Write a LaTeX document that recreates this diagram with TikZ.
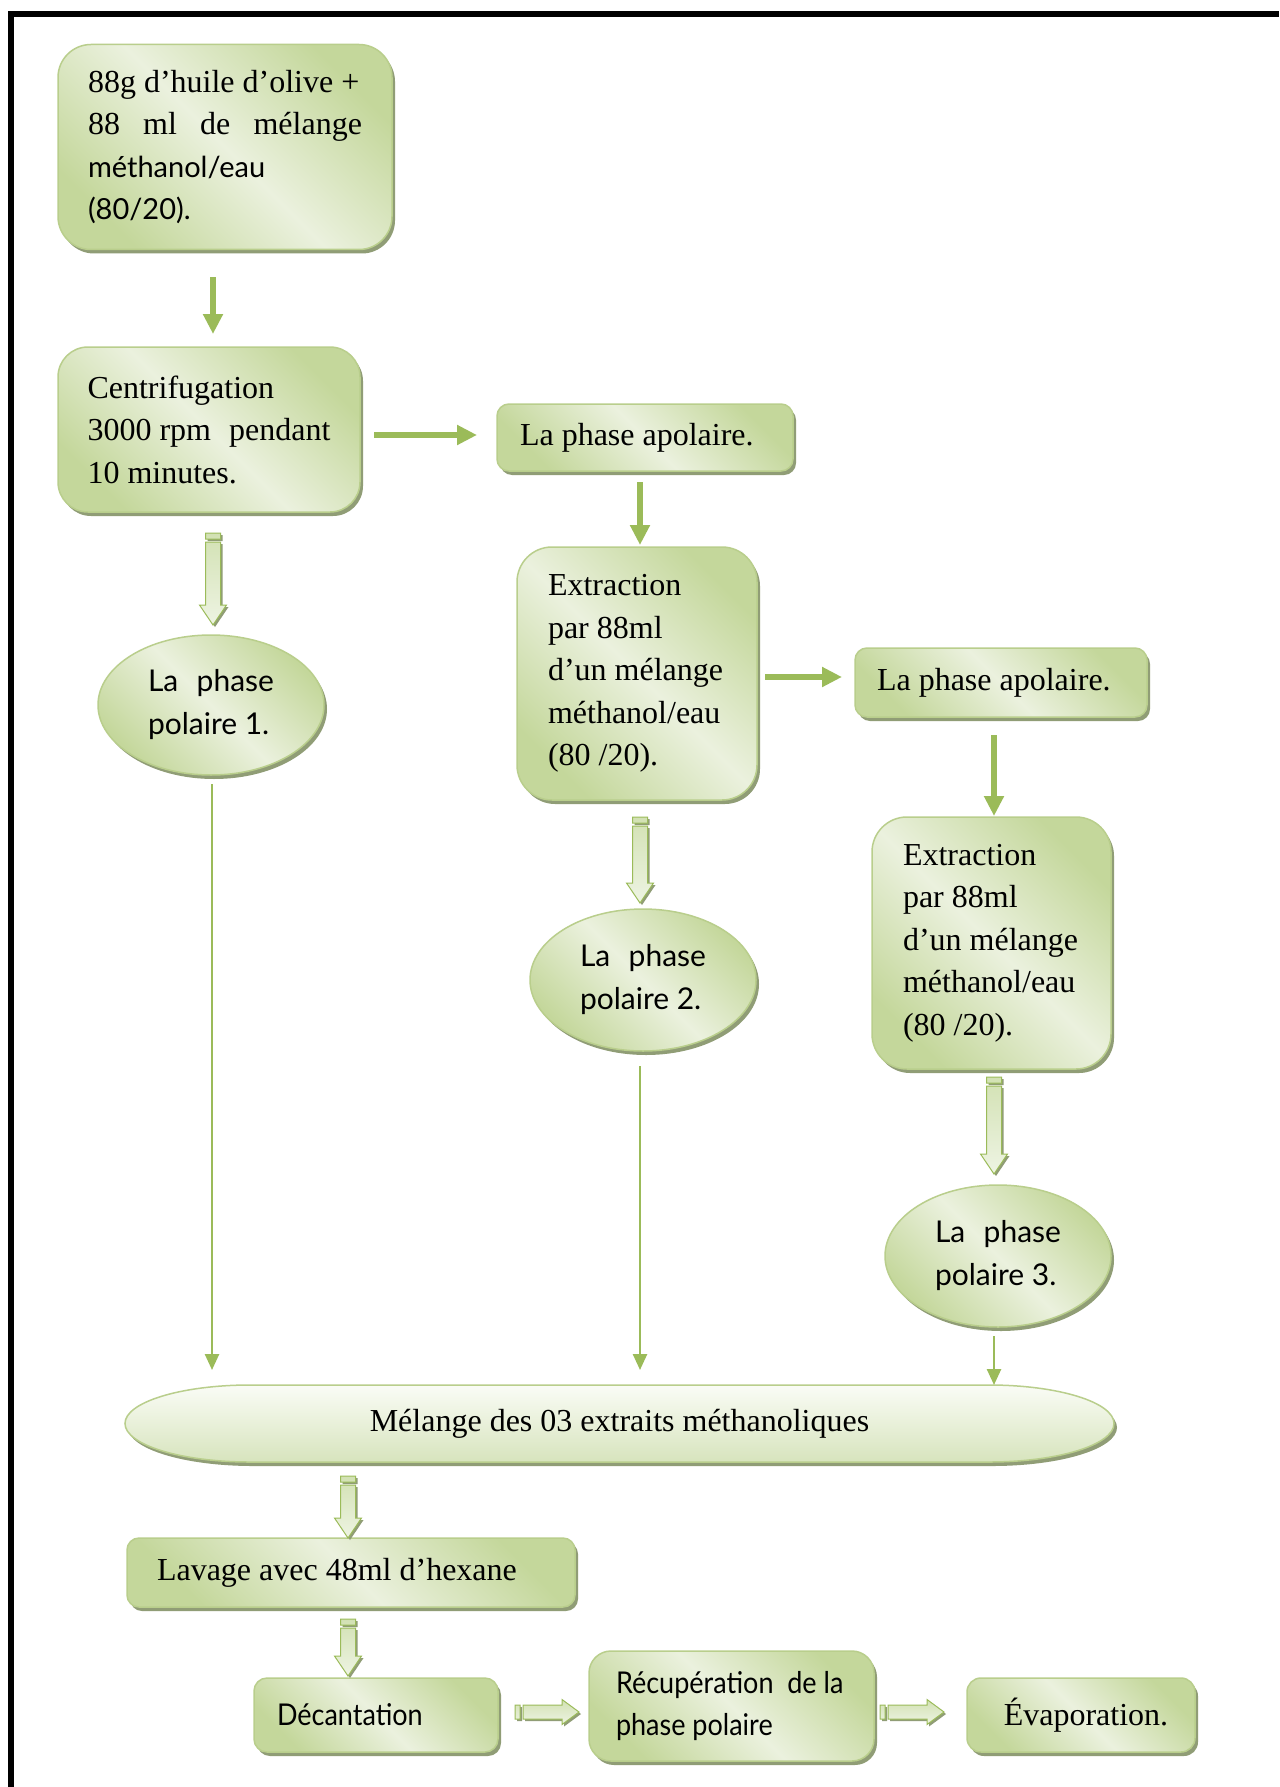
\documentclass[tikz,border=0pt]{standalone}
\usepackage{fontspec}
\setmainfont{Liberation Serif}
\newfontfamily\sansf{Lato}
\newfontfamily\sansc[FakeStretch=0.9]{Lato}
\usetikzlibrary{shapes.geometric,arrows.meta,calc,shadows}
\definecolor{gA}{HTML}{C4D79B}
\definecolor{gB}{HTML}{EBF1DE}
\definecolor{gE}{HTML}{B9CE8C}
\definecolor{gC}{HTML}{9BBB59}
\definecolor{hA}{HTML}{D2E1B3}
\definecolor{hB}{HTML}{EEF4E3}
\definecolor{shc}{HTML}{909D76}
\definecolor{mT}{HTML}{FAFCF6}
\definecolor{mB}{HTML}{D7E4BD}
\tikzset{
  serif/.style={font=\fontsize{32}{42.5}\selectfont},
  sans/.style={font=\sansf\fontsize{30}{43}\selectfont},
  sansb/.style={font=\sansc\fontsize{30}{42}\selectfont},
  shad/.style={drop shadow={shadow xshift=3pt,shadow yshift=-4pt,fill=shc,opacity=1}},
  box/.style={draw=gE, line width=1.5pt, top color=gA, bottom color=gA, middle color=gB,
    shading angle=-45, shad, inner sep=0pt, align=flush left, serif},
  ell/.style={box, ellipse, sans},
  sarrow/.style={draw=gC, line width=6.5pt, -{Triangle[length=20pt,width=19pt]}},
  tarrow/.style={draw=gC, line width=2.5pt, -{Triangle[length=16pt,width=14pt]}},
  hollow/.style={draw=gC, line width=1pt, left color=hA, right color=hB, shading angle=0,
    drop shadow={shadow xshift=2pt,shadow yshift=-2pt,fill=shc,opacity=1}},
  melstyle/.style={draw=gE, line width=1.5pt, top color=mT, bottom color=mB, shad}
}
% hollow (block) arrows between two named coordinates
\newcommand\hollowdown[2]{%
  \path[hollow] let \p1=(#1), \p2=(#2) in
    (\x1-7.5pt,\y1) rectangle (\x1+7.5pt,\y1-6pt)
    (\x1-7.5pt,\y1-9pt) -- (\x1-7.5pt,\y2+20pt) -- (\x1-13.5pt,\y2+20pt) -- (\x2,\y2)
    -- (\x1+13.5pt,\y2+20pt) -- (\x1+7.5pt,\y2+20pt) -- (\x1+7.5pt,\y1-9pt) -- cycle;}
\newcommand\hollowright[2]{%
  \path[hollow] let \p1=(#1), \p2=(#2) in
    (\x1,\y1-7pt) rectangle (\x1+5pt,\y1+7pt)
    (\x1+8pt,\y1-7pt) -- (\x2-17pt,\y1-7pt) -- (\x2-17pt,\y1-12.5pt) -- (\x2,\y2)
    -- (\x2-17pt,\y1+12.5pt) -- (\x2-17pt,\y1+7pt) -- (\x1+8pt,\y1+7pt) -- cycle;}
\begin{document}
\begin{tikzpicture}[x=1pt,y=-1pt]
\useasboundingbox (0,0) rectangle (1279,1787);
\fill[white] (0,0) rectangle (1279,1787);
% frame
\fill[black] (8,11) rectangle (1279,17);
\fill[black] (8,11) rectangle (14,1787);

% nodes
\node[box, rounded corners=33pt, minimum width=334pt, minimum height=205pt, text width=274pt] (b1) at (225,147)
  {\mbox{88g d’huile d’olive +}\\\makebox[274pt]{88\hfill ml\hfill de\hfill mélange}\\{\sansf\fontsize{29}{42.5}\selectfont méthanol/eau}\\{\sansf\fontsize{29}{42.5}\selectfont (80/20).}};
\node[box, rounded corners=30pt, minimum width=302pt, minimum height=165pt, text width=243pt] (b2) at (209,429.5)
  {Centrifugation\\\makebox[243pt]{3000 rpm\hfill pendant}\\10 minutes.};
\node[box, rounded corners=12pt, minimum width=296pt, minimum height=67pt, text width=250pt] (ap1) at (645,437.5)
  {La phase apolaire.};
\node[box, rounded corners=35pt, minimum width=240pt, minimum height=253pt, text width=178pt] (ex1) at (637,673.5)
  {Extraction\\par 88ml\\\mbox{d’un mélange}\\\mbox{méthanol/eau}\\(80 /20).};
\node[box, rounded corners=12pt, minimum width=292pt, minimum height=69pt, text width=248pt] (ap2) at (1001,682.5)
  {La phase apolaire.};
\node[box, rounded corners=35pt, minimum width=239pt, minimum height=252pt, text width=177pt] (ex2) at (991.5,943)
  {Extraction\\par 88ml\\\mbox{d’un mélange}\\\mbox{méthanol/eau}\\(80 /20).};
\node[ell, minimum width=226pt, minimum height=140pt, text width=126pt] (p1) at (211,705)
  {\makebox[126pt]{La\hfill phase}\\polaire 1.};
\node[ell, minimum width=226pt, minimum height=142pt, text width=126pt] (p2) at (643,980)
  {\makebox[126pt]{La\hfill phase}\\polaire 2.};
\node[ell, minimum width=226pt, minimum height=142pt, text width=126pt] (p3) at (998,1256)
  {\makebox[126pt]{La\hfill phase}\\polaire 3.};
% melange
\path[melstyle] (250,1385) -- (989,1385) arc[start angle=90,end angle=-90,x radius=125pt,y radius=38.5pt]
  -- (250,1462) arc[start angle=270,end angle=90,x radius=125pt,y radius=38.5pt] -- cycle;
\node[serif, minimum width=989pt, minimum height=77pt, inner sep=0pt] (mel) at (619.5,1423.5)
  {Mélange des 03 extraits méthanoliques};
\node[box, rounded corners=12pt, minimum width=448pt, minimum height=69pt, text width=388pt] (lav) at (351,1572.5)
  {Lavage avec 48ml d’hexane};
\node[box, sansb, rounded corners=13pt, minimum width=244pt, minimum height=74pt, text width=198pt] (dec) at (376,1715)
  {Décantation};
\node[box, sansb, rounded corners=22pt, minimum width=285pt, minimum height=110pt, text width=231pt] (rec) at (731.5,1706)
  {\mbox{Récupération\ \ de la}\\phase polaire};
\node[box, rounded corners=14pt, minimum width=228pt, minimum height=74pt, align=center] (eva) at (1081,1715)
  {\hspace*{10pt}Évaporation.};

% connector end points
\coordinate (s1a) at (213,277);  \coordinate (s1b) at (213,334);
\coordinate (s2a) at (374,435);  \coordinate (s2b) at (477,435);
\coordinate (s3a) at (640,482);  \coordinate (s3b) at (640,545);
\coordinate (s4a) at (765,677);  \coordinate (s4b) at (842,677);
\coordinate (s5a) at (994,735);  \coordinate (s5b) at (994,816);
\coordinate (h1a) at (213,533);  \coordinate (h1b) at (213,625);
\coordinate (h2a) at (640,817);  \coordinate (h2b) at (640,903);
\coordinate (h3a) at (994,1077); \coordinate (h3b) at (994,1174);
\coordinate (h4a) at (348,1476); \coordinate (h4b) at (348,1538);
\coordinate (h5a) at (348,1619); \coordinate (h5b) at (348,1676);
\coordinate (h6a) at (515,1712); \coordinate (h6b) at (579,1712);
\coordinate (h7a) at (880,1712); \coordinate (h7b) at (944,1712);
\coordinate (t1a) at (212,784);  \coordinate (t1b) at (212,1370);
\coordinate (t2a) at (640,1066); \coordinate (t2b) at (640,1370);
\coordinate (t3a) at (994,1336); \coordinate (t3b) at (994,1385);

% solid arrows
\draw[sarrow] (s1a) -- (s1b);
\draw[sarrow] (s2a) -- (s2b);
\draw[sarrow] (s3a) -- (s3b);
\draw[sarrow] (s4a) -- (s4b);
\draw[sarrow] (s5a) -- (s5b);
% thin arrows
\draw[tarrow] (t1a) -- (t1b);
\draw[tarrow] (t2a) -- (t2b);
\draw[tarrow] (t3a) -- (t3b);
% hollow arrows
\hollowdown{h1a}{h1b}
\hollowdown{h2a}{h2b}
\hollowdown{h3a}{h3b}
\hollowdown{h4a}{h4b}
\hollowdown{h5a}{h5b}
\hollowright{h6a}{h6b}
\hollowright{h7a}{h7b}
\end{tikzpicture}
\end{document}
